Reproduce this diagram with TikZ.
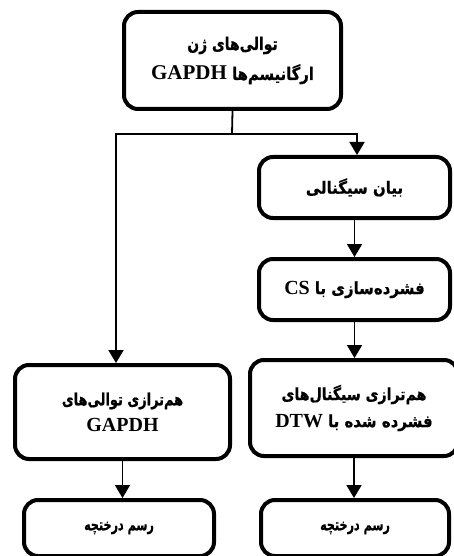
\documentclass[tikz,border=0pt]{standalone}
\usepackage{graphicx}
\usepackage{fontspec}
\setmainfont{Liberation Serif}
\newfontfamily\fa[Script=Arabic, BoldFeatures={FakeBold=0.8}]{DejaVu Sans}
\TeXXeTstate=1
\usetikzlibrary{arrows.meta}
\newcommand\pers[3][1]{\scalebox{#1}[1]{\fa\bfseries\fontsize{#2}{#2}\selectfont #3}}
\begin{document}
\begin{tikzpicture}[x=1pt,y=-1pt,
  box/.style={draw, line width=4pt, rounded corners=14pt, fill=white, align=center, inner sep=0pt},
  conn/.style={line width=1.8pt},
  arr/.style={conn, -{Triangle[width=15pt,length=13pt]}}]
\useasboundingbox (0,0) rectangle (454,556);
\clip (0,0) rectangle (454,556);
\node[box, minimum width=217pt, minimum height=97pt, font=\fontsize{21}{30}\selectfont\bfseries] (top) at (232.5,60.5)
  {\pers[0.8]{17.4}{\beginR توالی‌های ژن\endR}\\
   GAPDH \pers[0.85]{17.4}{\beginR ارگانیسم‌ها\endR}};
\node[box, minimum width=191pt, minimum height=61pt, font=\fontsize{20}{27}\selectfont\bfseries] (sig) at (354.5,187.5)
  {\pers[0.89]{16.8}{\beginR بیان سیگنالی\endR}};
\node[box, minimum width=191pt, minimum height=61pt, font=\fontsize{20}{27}\selectfont\bfseries] (cs) at (354.5,289.5)
  {CS \pers[0.89]{16.8}{\beginR فشرده‌سازی با\endR}};
\node[box, minimum width=215pt, minimum height=94pt, font=\fontsize{20}{26}\selectfont\bfseries] (lal) at (122.5,412)
  {\pers[0.77]{16.8}{\beginR هم‌ترازی توالی‌های\endR}\\ GAPDH};
\node[box, minimum width=208pt, minimum height=96pt, font=\fontsize{20}{27}\selectfont\bfseries] (dtw) at (354,408)
  {\pers[0.84]{16.8}{\beginR هم‌ترازی سیگنال‌های\endR}\\
   DTW \pers[0.89]{16.8}{\beginR فشرده شده با\endR}};
\node[box, minimum width=190pt, minimum height=56pt, font=\fontsize{20}{27}\selectfont\bfseries] (bl) at (119,528)
  {\pers[0.7]{16}{\beginR رسم درختچه\endR}};
\node[box, minimum width=188pt, minimum height=56pt, font=\fontsize{20}{27}\selectfont\bfseries] (br) at (355,528)
  {\pers[0.7]{16}{\beginR رسم درختچه\endR}};
\coordinate (j) at (232,134);
\coordinate (jl) at (116,134);
\coordinate (jr) at (357,134);
\draw[conn] (top.south) -- (j);
\draw[arr] (j) -- (jl) -- (jl |- lal.north);
\draw[arr] (j) -- (jr) -- (jr |- sig.north);
\draw[arr] (sig.south) -- (cs.north);
\draw[arr] (cs.south) -- (cs.south |- dtw.north);
\draw[arr] (lal.south) -- (lal.south |- bl.north);
\draw[arr] (dtw.south) -- (dtw.south |- br.north);
\end{tikzpicture}
\end{document}
